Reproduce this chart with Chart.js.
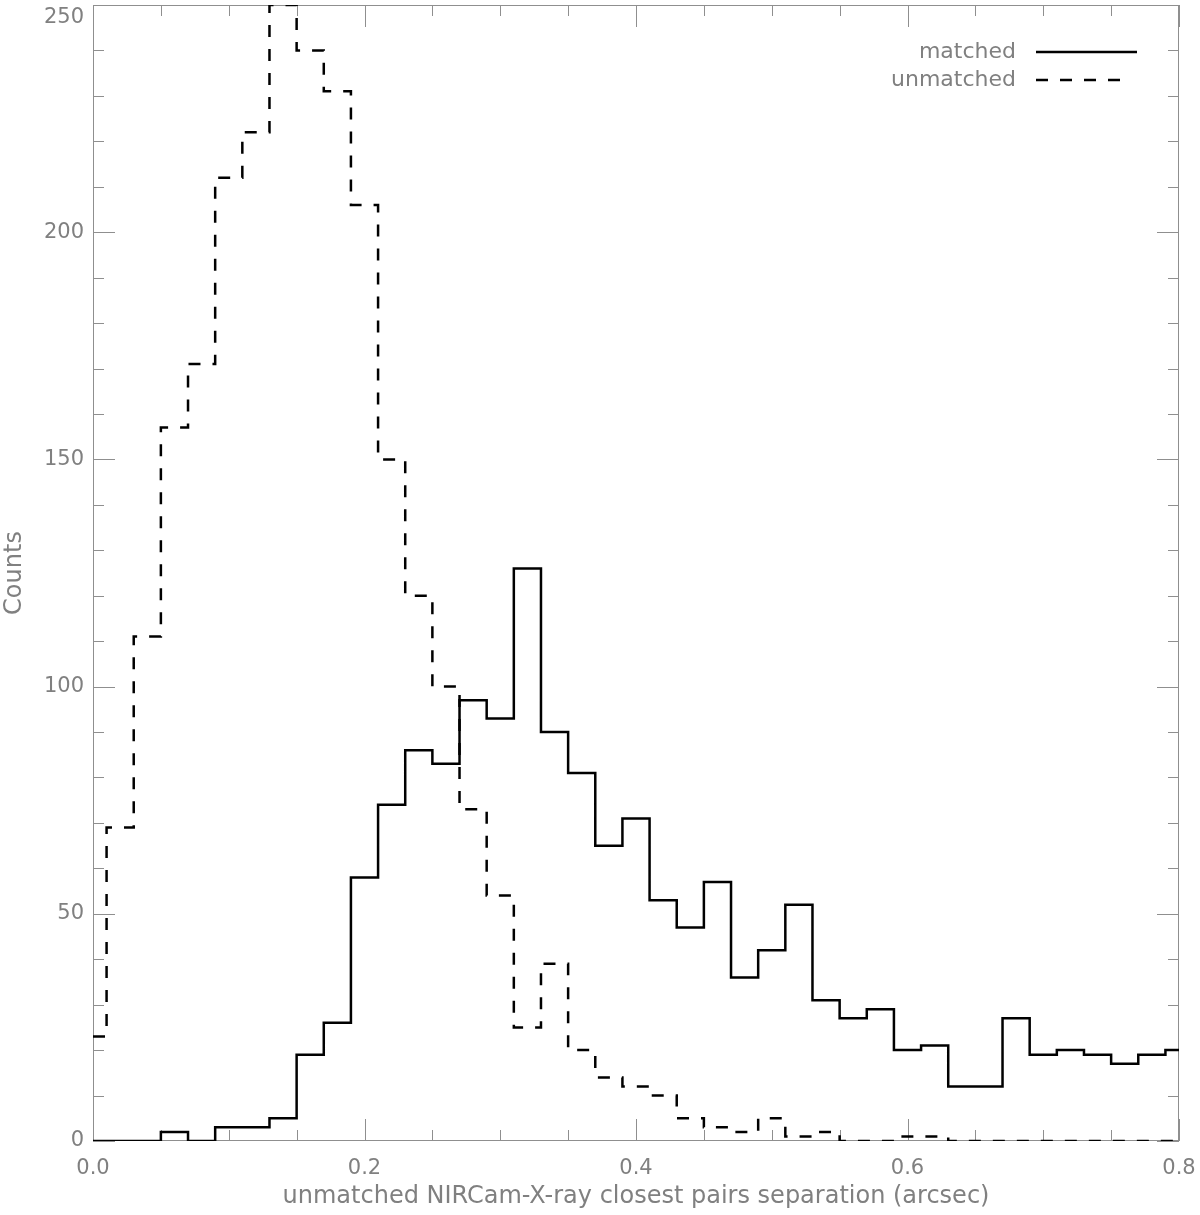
<!DOCTYPE html>
<html>
<head>
<meta charset="utf-8">
<script src="https://cdn.jsdelivr.net/npm/chart.js@4.4.1/dist/chart.umd.min.js"></script>
<style>
  body { margin: 0; background: #fff; }
  #wrap { width: 1200px; height: 1215px; }
</style>
</head>
<body>
<div id="wrap"><canvas id="sepChart"></canvas></div>
<script>
// bin centres (arcsec), bin width 0.02
const binCenters = [0.00, 0.02, 0.04, 0.06, 0.08, 0.10, 0.12, 0.14, 0.16, 0.18,
                    0.20, 0.22, 0.24, 0.26, 0.28, 0.30, 0.32, 0.34, 0.36, 0.38,
                    0.40, 0.42, 0.44, 0.46, 0.48, 0.50, 0.52, 0.54, 0.56, 0.58,
                    0.60, 0.62, 0.64, 0.66, 0.68, 0.70, 0.72, 0.74, 0.76, 0.78, 0.80];
const matchedCounts = [0, 0, 0, 2, 0, 3, 3, 5, 19, 26,
                       58, 74, 86, 83, 97, 93, 126, 90, 81, 65,
                       71, 53, 47, 57, 36, 42, 52, 31, 27, 29,
                       20, 21, 12, 12, 27, 19, 20, 19, 17, 19, 20];
const unmatchedCounts = [23, 69, 111, 157, 171, 212, 222, 250, 240, 231,
                         206, 150, 120, 100, 73, 54, 25, 39, 20, 14,
                         12, 10, 5, 3, 2, 5, 1, 2, 0, 0,
                         1, 1, 0, 0, 0, 0, 0, 0, 0, 0, 0];
const xTickValues = [0.0, 0.2, 0.4, 0.6, 0.8];
const yTickValues = [0, 50, 100, 150, 200, 250];

const axisGray = '#8f8f8f';
const textGray = '#808080';
const fontFam = '"DejaVu Sans", sans-serif';

// box frame + IDL style inward ticks on all four sides, and the legend
const idlFrame = {
  id: 'idlFrame',
  beforeDatasetsDraw(chart) {
    const { ctx, chartArea: a, scales: { x, y } } = chart;
    ctx.save();
    ctx.strokeStyle = axisGray;
    ctx.lineWidth = 1;
    ctx.strokeRect(Math.round(a.left) + 0.5, Math.round(a.top) + 0.5,
                   Math.round(a.width) - 1, Math.round(a.height) - 1);
    ctx.beginPath();
    for (let k = 0; k <= 16; k++) {
      const v = k * 0.05;
      const px = Math.round(x.getPixelForValue(v)) + 0.5;
      const len = k % 4 === 0 ? 22 : 11;
      ctx.moveTo(px, a.bottom); ctx.lineTo(px, a.bottom - len);
      ctx.moveTo(px, a.top); ctx.lineTo(px, a.top + len);
    }
    for (let v = 0; v <= 250; v += 10) {
      const py = Math.round(y.getPixelForValue(v)) + 0.5;
      const len = v % 50 === 0 ? 22 : 11;
      ctx.moveTo(a.left, py); ctx.lineTo(a.left + len, py);
      ctx.moveTo(a.right, py); ctx.lineTo(a.right - len, py);
    }
    ctx.stroke();
    ctx.restore();
  },
  afterDatasetsDraw(chart) {
    const { ctx, chartArea: a } = chart;
    const rows = [{ ds: 0, dy: 47, len: 101 }, { ds: 1, dy: 75, len: 89 }];
    ctx.save();
    ctx.font = '22px ' + fontFam;
    ctx.textAlign = 'right';
    ctx.textBaseline = 'middle';
    rows.forEach(r => {
      const ds = chart.data.datasets[r.ds];
      const yy = a.top + r.dy;
      ctx.fillStyle = textGray;
      ctx.fillText(ds.label, a.right - 163, yy);
      ctx.strokeStyle = ds.borderColor;
      ctx.lineWidth = ds.borderWidth;
      ctx.setLineDash(ds.borderDash || []);
      ctx.beginPath();
      ctx.moveTo(a.right - 143, yy);
      ctx.lineTo(a.right - 143 + r.len, yy);
      ctx.stroke();
    });
    ctx.restore();
  }
};

const ctx = document.getElementById('sepChart').getContext('2d');
new Chart(ctx, {
  type: 'line',
  data: {
    datasets: [{
      label: 'matched',
      data: binCenters.map((c, i) => ({ x: c, y: matchedCounts[i] })),
      stepped: 'middle',
      borderColor: '#000',
      borderWidth: 2.5,
      pointRadius: 0,
      fill: false
    }, {
      label: 'unmatched',
      data: binCenters.map((c, i) => ({ x: c, y: unmatchedCounts[i] })),
      stepped: 'middle',
      borderColor: '#000',
      borderWidth: 2.5,
      borderDash: [12, 12],
      pointRadius: 0,
      fill: false
    }]
  },
  options: {
    responsive: true,
    maintainAspectRatio: false,
    animation: false,
    layout: { padding: { top: 5, right: 21, bottom: 0, left: 0 } },
    plugins: { legend: { display: false }, tooltip: { enabled: false } },
    scales: {
      x: {
        type: 'linear',
        min: 0,
        max: 0.8,
        afterBuildTicks: s => { s.ticks = xTickValues.map(v => ({ value: v })); },
        ticks: {
          padding: 15,
          maxRotation: 0,
          autoSkip: false,
          color: textGray,
          font: { family: fontFam, size: 21 },
          callback: v => Number(v).toFixed(1)
        },
        grid: { display: false, drawTicks: false },
        border: { display: false },
        title: {
          display: true,
          text: 'unmatched NIRCam-X-ray closest pairs separation (arcsec)',
          color: textGray,
          font: { family: fontFam, size: 24 },
          padding: { top: 0, bottom: 4 }
        },
        afterFit: s => { s.height = 74; s.paddingLeft = 0; s.paddingRight = 0; }
      },
      y: {
        type: 'linear',
        min: 0,
        max: 250,
        afterBuildTicks: s => { s.ticks = yTickValues.map(v => ({ value: v })); },
        ticks: {
          padding: 9,
          color: textGray,
          font: { family: fontFam, size: 21 },
          // top label sits just below its tick, like the original
          callback: v => v === 250 ? ['', '250'] : String(v)
        },
        grid: { display: false, drawTicks: false },
        border: { display: false },
        title: {
          display: true,
          text: 'Counts',
          color: textGray,
          font: { family: fontFam, size: 24 },
          padding: { top: 0, bottom: 0 }
        },
        afterFit: s => { s.width = 93; s.paddingTop = 0; s.paddingBottom = 0; }
      }
    }
  },
  plugins: [idlFrame]
});
</script>
</body>
</html>
